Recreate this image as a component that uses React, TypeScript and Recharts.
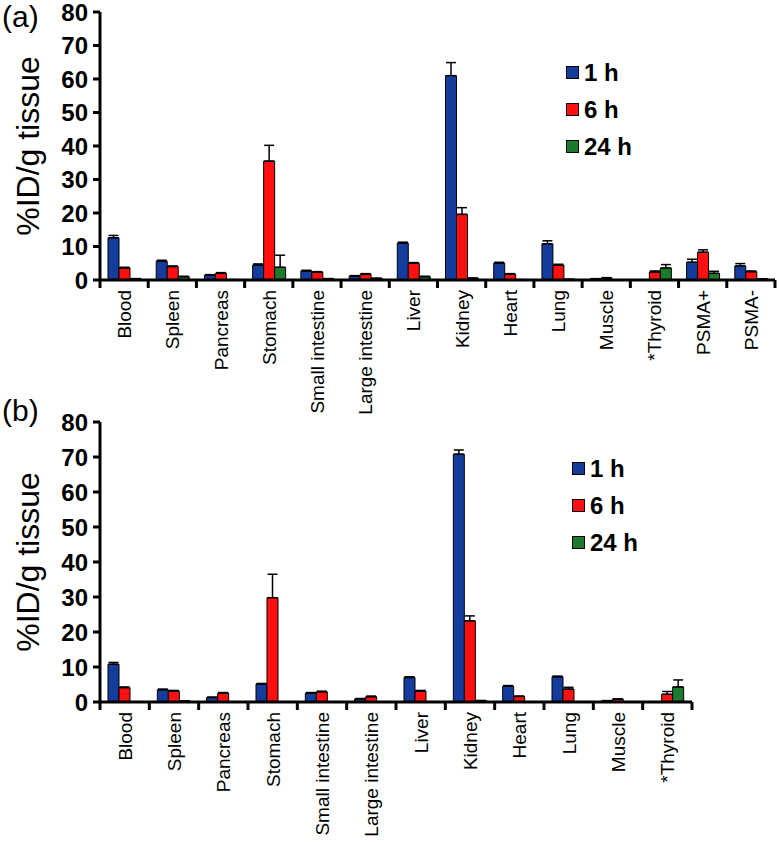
import React from "react"
import { BarChart, Bar, XAxis, YAxis, ErrorBar, Legend } from "recharts"

// panel (a) organs
const organsA = [
  "Blood", "Spleen", "Pancreas", "Stomach", "Small intestine", "Large intestine",
  "Liver", "Kidney", "Heart", "Lung", "Muscle", "*Thyroid", "PSMA+", "PSMA-",
]
const a1h = [12.6, 5.6, 1.4, 4.5, 2.7, 1.1, 11.0, 61.0, 5.0, 10.8, 0.3, 0, 5.3, 4.2]
const a1hErr = [0.7, 0.3, 0.2, 0.3, 0.2, 0.2, 0.3, 3.9, 0.3, 0.9, 0.1, 0, 0.9, 0.7]
const a6h = [3.6, 4.0, 2.0, 35.5, 2.3, 1.7, 5.0, 19.6, 1.7, 4.4, 0.6, 2.4, 8.3, 2.5]
const a6hErr = [0.2, 0.2, 0.2, 4.7, 0.2, 0.2, 0.2, 2.0, 0.2, 0.3, 0.1, 0.3, 0.7, 0.2]
const a24h = [0.4, 1.0, 0.1, 3.8, 0.4, 0.5, 1.0, 0.5, 0.1, 0.2, 0, 3.6, 2.0, 0.3]
const a24hErr = [0, 0.1, 0, 3.6, 0, 0, 0.1, 0.1, 0, 0, 0, 1.0, 0.6, 0]

// panel (b) organs
const organsB = [
  "Blood", "Spleen", "Pancreas", "Stomach", "Small intestine", "Large intestine",
  "Liver", "Kidney", "Heart", "Lung", "Muscle", "*Thyroid",
]
const b1h = [10.8, 3.5, 1.3, 5.1, 2.5, 0.9, 7.0, 70.8, 4.5, 7.2, 0.3, 0]
const b1hErr = [0.5, 0.2, 0.1, 0.2, 0.2, 0.1, 0.2, 1.2, 0.2, 0.2, 0.1, 0]
const b6h = [4.1, 3.1, 2.5, 29.8, 2.9, 1.5, 3.1, 23.2, 1.6, 3.7, 0.8, 2.2]
const b6hErr = [0.2, 0.2, 0.2, 6.7, 0.2, 0.2, 0.2, 1.4, 0.1, 0.5, 0.1, 0.8]
const b24h = [0, 0.3, 0, 0, 0, 0, 0, 0.4, 0, 0, 0, 4.3]
const b24hErr = [0, 0, 0, 0, 0, 0, 0, 0, 0, 0, 0, 2.0]

const yTicks = [0, 10, 20, 30, 40, 50, 60, 70, 80]

const series = [
  { key: "h1", name: "1 h", color: "#143c9c" },
  { key: "h6", name: "6 h", color: "#ff1010" },
  { key: "h24", name: "24 h", color: "#1c7a2c" },
]

const FONT = "'Liberation Sans', Arial, sans-serif"

function buildRows(names: string[], s1: number[], e1: number[], s6: number[], e6: number[], s24: number[], e24: number[]) {
  return names.map((name, i) => ({
    name,
    h1: s1[i], h1Err: [0, e1[i]],
    h6: s6[i], h6Err: [0, e6[i]],
    h24: s24[i], h24Err: [0, e24[i]],
  }))
}

// tick marks sit on the band edges, labels run upward ending just under the axis
function OrganTick(props: any) {
  const { x, y, payload, index, visibleTicksCount } = props
  const off = payload.offset ?? 0
  return (
    <g>
      <line x1={x - off} x2={x - off} y1={y} y2={y + 8} stroke="#000" strokeWidth={3} />
      {index === visibleTicksCount - 1 && (
        <line x1={x + off} x2={x + off} y1={y} y2={y + 8} stroke="#000" strokeWidth={3} />
      )}
      <g transform={`translate(${x + 7}, ${y + 10}) rotate(-90)`}>
        <text x={0} y={0} textAnchor="end" fontSize={19} fontFamily={FONT} fill="#000">
          {payload.value}
        </text>
      </g>
    </g>
  )
}

function YTitle(props: any) {
  const vb = props.viewBox || {}
  const cx = vb.x + 28
  const cy = vb.y + vb.height / 2
  return (
    <g transform={`translate(${cx}, ${cy}) rotate(-90)`}>
      <text x={0} y={0} textAnchor="middle" dominantBaseline="central" fontSize={32} fontFamily={FONT} fill="#000">
        %ID/g tissue
      </text>
    </g>
  )
}

function TimeLegend(props: any) {
  const items = props.payload || []
  const ordered = series.map((s) => items.find((it: any) => it.value === s.name)).filter(Boolean)
  return (
    <div style={{ fontFamily: FONT }}>
      {ordered.map((it: any) => (
        <div key={it.value} style={{ display: "flex", alignItems: "center", height: 37 }}>
          <span
            style={{
              display: "inline-block",
              width: 11,
              height: 11,
              background: it.color,
              border: "1px solid #000",
              marginRight: 5,
            }}
          />
          <span style={{ fontSize: 24, fontWeight: "bold", color: "#000" }}>{it.value}</span>
        </div>
      ))}
    </div>
  )
}

interface PanelProps {
  rows: any[]
  width: number
  height: number
  rightMargin: number
  axisHeight: number
  legendLeft: number
  legendTop: number
}

function Panel({ rows, width, height, rightMargin, axisHeight, legendLeft, legendTop }: PanelProps) {
  return (
    <BarChart
      width={width}
      height={height}
      data={rows}
      margin={{ top: 12, right: rightMargin, bottom: 0, left: 0 }}
      barGap={0}
    >
      <XAxis
        dataKey="name"
        interval={0}
        height={axisHeight}
        tickSize={0}
        tickMargin={0}
        tickLine={false}
        axisLine={{ stroke: "#000", strokeWidth: 3 }}
        tick={<OrganTick />}
      />
      <YAxis
        width={100}
        domain={[0, 80]}
        ticks={yTicks}
        interval={0}
        tickSize={7}
        tickMargin={5}
        axisLine={{ stroke: "#000", strokeWidth: 3 }}
        tickLine={{ stroke: "#000", strokeWidth: 3 }}
        tick={{ fill: "#000", fontSize: 24, fontWeight: "bold", fontFamily: FONT }}
        label={<YTitle />}
      />
      <Legend
        layout="vertical"
        align="center"
        verticalAlign="middle"
        content={<TimeLegend />}
        wrapperStyle={{ left: legendLeft, top: legendTop, width: 120 }}
      />
      {series.map((s) => (
        <Bar
          key={s.key}
          dataKey={s.key}
          name={s.name}
          fill={s.color}
          stroke="#000"
          strokeWidth={1}
          barSize={11}
          isAnimationActive={false}
        >
          <ErrorBar dataKey={`${s.key}Err`} width={5} stroke="#000" strokeWidth={1.5} direction="y" />
        </Bar>
      ))}
    </BarChart>
  )
}

const rowsA = buildRows(organsA, a1h, a1hErr, a6h, a6hErr, a24h, a24hErr)
const rowsB = buildRows(organsB, b1h, b1hErr, b6h, b6hErr, b24h, b24hErr)

export default function App() {
  return (
    <div style={{ position: "absolute", left: 0, top: 0, width: 780, height: 842, background: "#fff", fontFamily: FONT }}>
      <div style={{ position: "absolute", left: 0, top: 0 }}>
        <Panel rows={rowsA} width={780} height={420} rightMargin={5} axisHeight={140} legendLeft={566} legendTop={54} />
      </div>
      <div style={{ position: "absolute", left: 0, top: 410 }}>
        <Panel rows={rowsB} width={780} height={432} rightMargin={88} axisHeight={140} legendLeft={572} legendTop={40} />
      </div>
      <div style={{ position: "absolute", left: 2, top: 0, fontSize: 30, lineHeight: "34px", color: "#000" }}>(a)</div>
      <div style={{ position: "absolute", left: 2, top: 394, fontSize: 30, lineHeight: "34px", color: "#000" }}>(b)</div>
    </div>
  )
}
